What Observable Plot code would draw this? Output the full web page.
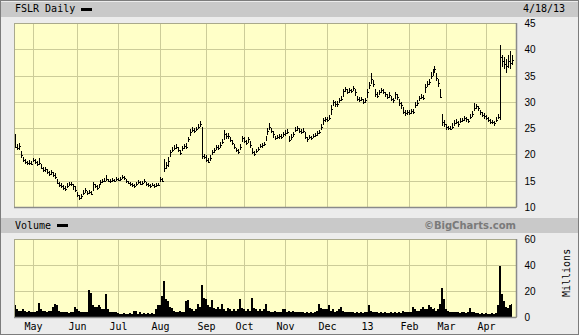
<!DOCTYPE html>
<html><head><meta charset="utf-8">
<script src="https://cdn.jsdelivr.net/npm/d3@7"></script>
<script src="https://cdn.jsdelivr.net/npm/@observablehq/plot@0.6"></script>
<style>
html,body{margin:0;padding:0;background:#fff}
#chart{position:relative;width:579px;height:335px;background:#ececec;overflow:hidden;font-family:"DejaVu Sans Mono",monospace}
.band{position:absolute;left:1px;width:577px;height:15px;background:#c9c9c9}
.lbl{position:absolute;font-size:10px;line-height:10px;color:#000;white-space:nowrap;font-family:"DejaVu Sans Mono",monospace}
.sw{position:absolute;background:#000;height:3px;width:11px}
#chart svg{position:absolute;left:0}
.outer{position:absolute;left:0;top:0;width:579px;height:335px;box-sizing:border-box;border:1px solid #7c7c7c;pointer-events:none}
.vol g[aria-label^="x-axis"] text{font-family:"DejaVu Sans Mono",monospace;font-size:10px}
</style></head><body><div id="chart">
<div class="band" style="top:2px"></div>
<div class="lbl" style="left:15px;top:4px">FSLR Daily</div>
<div class="sw" style="left:81px;top:8px"></div>
<div class="lbl" style="left:523px;top:4px">4/18/13</div>
<div class="band" style="top:218px"></div>
<div class="lbl" style="left:15px;top:221px">Volume</div>
<div class="sw" style="left:57px;top:224px"></div>
<div class="lbl" style="right:63px;top:221px;font-family:'DejaVu Sans',sans-serif;font-weight:bold;color:#7a7a7a">©BigCharts.com</div>
<div class="lbl" style="left:546px;top:271px;width:42px;text-align:center;transform:rotate(-90deg);transform-origin:21px 5px">Millions</div>
</div>
<script>
// Trading-day series, 18 Apr 2012 .. 18 Apr 2013 (one line per month)
const closes = [
21.5,21.2,21.6,19.8,18.9,18.6,18.3,18.4,18.2,
19.0,18.5,18.2,18.4,17.5,17.0,17.2,16.6,16.3,16.6,16.1,15.8,14.6,14.2,14.0,13.6,13.4,14.0,14.4,14.3,14.0,13.2,
12.2,11.7,12.0,12.7,13.2,12.6,12.8,12.5,14.4,13.9,13.6,14.0,14.7,15.0,15.0,15.3,15.0,14.9,15.1,15.0,15.3,
15.2,15.4,15.7,15.5,14.9,14.6,14.3,14.1,14.0,14.3,14.8,14.4,14.6,15.0,14.3,14.1,14.0,14.2,14.0,14.1,14.2,
15.3,15.0,17.5,17.9,18.7,20.5,20.9,21.3,21.5,20.8,20.3,21.2,21.6,21.5,23.0,24.3,24.7,24.4,24.9,25.3,25.8,19.7,19.6,
19.0,18.6,19.3,20.4,20.8,21.4,21.3,21.8,22.4,23.8,23.5,23.6,22.8,22.2,21.4,20.8,20.5,21.5,23.2,
22.6,22.2,22.9,21.8,20.5,20.1,20.6,21.0,21.6,21.7,22.0,23.1,24.5,25.2,24.5,23.8,23.1,23.3,23.5,23.3,23.8,
24.1,24.3,22.8,23.3,23.8,24.7,25.0,24.5,24.3,24.5,23.4,22.9,23.3,23.2,23.5,23.7,24.0,24.2,25.2,26.5,26.8,
26.6,27.0,28.7,29.9,29.5,29.6,30.3,30.6,32.0,32.4,31.8,32.2,32.0,32.6,31.8,30.5,30.4,30.6,30.0,30.3,
31.9,33.2,34.3,33.4,31.5,31.2,31.8,32.2,31.9,31.4,31.0,31.3,30.5,30.3,31.4,31.0,29.8,29.4,28.1,27.8,28.0,
27.9,28.2,28.1,29.4,29.8,30.7,31.0,30.8,32.8,33.4,33.8,35.0,35.6,36.2,34.6,33.6,31.0,26.2,25.8,
25.2,25.0,24.9,25.3,25.9,26.1,25.8,26.4,26.5,26.9,26.7,26.3,27.2,27.6,28.9,29.2,28.8,28.0,27.5,27.3,
27.0,26.6,26.1,26.2,25.9,26.6,27.2,38.5,37.8,37.2,36.8,37.8,37.3,38.0
];
const highs = [
23.8,21.9,22.1,20.6,19.5,19.2,18.8,18.9,18.7,
19.4,19.1,18.7,19.3,18.2,17.6,17.6,17.2,16.9,17.0,16.6,16.4,15.4,14.8,14.5,14.1,13.9,14.5,14.8,14.7,14.4,13.9,
12.8,12.3,12.4,13.3,13.6,13.1,13.2,13.0,14.8,14.4,14.1,14.4,15.1,15.4,15.5,16.1,15.4,15.3,15.5,15.4,15.7,
15.5,15.8,16.0,15.9,15.4,15.0,14.7,14.5,14.4,14.7,15.2,14.9,15.0,15.3,14.8,14.5,14.4,14.5,14.4,14.5,14.6,
15.8,15.6,19.2,18.6,19.5,20.9,21.5,21.8,22.0,21.4,20.9,21.6,22.0,22.2,23.4,24.8,25.2,25.0,25.3,25.7,26.4,25.3,20.1,
19.8,19.3,19.8,20.8,21.3,21.8,21.8,22.3,22.9,24.6,24.0,24.1,23.4,22.7,22.0,21.3,21.0,21.9,23.6,
23.3,22.8,23.4,22.6,21.2,20.6,21.0,21.4,22.0,22.1,22.4,23.6,25.0,26.0,25.1,24.4,23.6,23.7,23.9,23.8,24.2,
24.6,24.8,23.5,23.8,24.3,25.2,25.5,25.0,24.8,25.0,24.2,23.4,23.7,23.6,23.9,24.1,24.4,24.7,25.7,27.0,27.2,
27.1,27.5,29.4,30.4,30.1,30.1,30.8,31.2,32.5,32.9,32.4,32.7,32.5,33.1,32.4,31.2,30.9,31.0,30.6,30.8,
32.4,33.8,35.5,34.2,32.4,31.8,32.3,32.7,32.4,31.9,31.5,31.8,31.2,30.8,31.9,31.5,30.6,30.0,29.0,28.4,28.5,
28.4,28.7,28.6,30.0,30.3,31.2,31.5,31.3,33.4,33.9,34.4,35.6,36.3,36.9,35.5,34.4,32.5,27.6,26.6,
25.7,25.5,25.4,26.0,26.5,26.7,26.4,26.9,27.0,27.4,27.2,26.8,27.7,28.2,29.7,29.6,29.3,28.5,28.0,27.8,
27.5,27.1,26.7,26.6,26.4,27.1,27.7,40.9,39.0,38.6,38.2,39.0,39.6,38.9
];
const lows = [
21.3,20.8,20.9,19.4,18.5,18.2,17.9,18.0,17.9,
18.5,18.2,17.8,18.0,17.2,16.6,16.7,16.2,15.9,16.1,15.7,15.4,14.3,13.8,13.6,13.3,13.1,13.6,14.0,13.9,13.3,12.9,
11.9,11.4,11.6,12.3,12.7,12.3,12.4,12.2,13.0,13.6,13.3,13.6,14.2,14.6,14.7,15.0,14.7,14.6,14.8,14.7,14.9,
14.9,15.0,15.3,15.1,14.6,14.3,13.9,13.8,13.7,13.9,14.3,14.1,14.2,14.6,14.0,13.8,13.7,13.9,13.7,13.8,13.9,
14.8,14.7,16.6,17.3,17.6,19.6,20.4,20.8,21.0,20.4,19.9,20.6,21.1,21.0,22.3,23.5,24.2,24.0,24.4,24.8,25.2,19.2,19.2,
18.5,18.3,18.7,19.8,20.3,20.9,20.9,21.3,21.9,22.8,23.0,23.0,22.3,21.7,21.0,20.4,20.1,20.8,22.4,
22.1,21.8,22.2,21.3,20.0,19.7,20.2,20.6,21.2,21.3,21.6,22.5,23.7,24.6,24.0,23.2,22.8,22.9,23.0,22.9,23.3,
23.6,23.8,22.4,22.8,23.3,24.2,24.5,24.0,23.9,24.0,22.9,22.4,22.9,22.8,23.1,23.3,23.6,23.8,24.6,25.6,26.2,
26.1,26.6,27.5,29.3,29.1,29.1,29.8,30.1,31.0,31.9,31.4,31.7,31.6,32.0,31.2,30.1,30.0,30.1,29.6,29.8,
30.8,32.5,33.4,32.8,31.0,30.7,31.3,31.7,31.4,30.9,30.6,30.8,30.1,29.8,30.6,30.4,29.3,28.7,27.6,27.4,27.5,
27.5,27.7,27.6,28.8,29.3,30.2,30.5,30.3,31.6,32.8,33.2,34.3,35.0,35.4,34.0,32.9,30.8,25.5,25.2,
24.7,24.6,24.6,24.8,25.4,25.7,25.3,25.9,26.1,26.4,26.2,25.9,26.7,27.1,28.2,28.7,28.3,27.5,27.1,26.8,
26.6,26.2,25.7,25.8,25.5,26.1,26.7,26.6,36.6,36.2,35.4,36.5,36.3,37.0
];
// Volume in millions of shares
const volumes = [
9,6,5,5,6,5,4,5,4,
4,4,5,10.5,6,5,5,4,5,5,8,10,9,5,4,4,3.5,3.5,3,3.5,4,8,
6,5,4,4,4,4,20.7,18.7,9,8,8,9.5,8,6,6,17.6,6,4,4,4,4,
3,2.5,2.5,3,2.5,2.5,3,2.5,5,5,2.5,4,2.5,3,2.5,3,2.5,3,2.5,6,9,
9,16,27.7,14,12,8,7,5,4,4,5,4,4,12,13,7,6,5,6,10,8,24.5,15,
14,9,8,13,7,6,8,6,10,6,5,7,6,5,6,5,6,13.7,7,
6,5,6,5,14.5,7,6,5,6,5,6,10,5,5,4,4,5,4,4,4,6,
6,4,5,4,5,4,4,4,4,3.5,3,3.5,3,3.5,3,3.5,5,10,7,6,6,
6,9,5,6,4,5,6,8,5,4,4,3.5,4,3.5,3,4,3,3.5,3,3.5,
4,9,5,4,3.5,3.5,3,3.5,3,3.5,3,3,3.5,3,3.5,3,3.5,3,5,4,4,
3.5,4,8,6,5,4.5,6,8,6,6,9,8,6,7,5,6,10,22,14,
6,5,4,4,3.5,4,3.5,3,4,3.5,3,3.5,7,4,3.5,3,3,2.5,3,2.5,
3,2.5,2.5,3,2.5,3,9,39,18,12,8,7,9,10
];
// Index of first trading day of each month, and its label
const monthStarts = [9,31,52,73,96,115,136,157,177,198,217,237];
const monthLabels = ["May","Jun","Jul","Aug","Sep","Oct","Nov","Dec","13","Feb","Mar","Apr"];
const priceTicks = [10,15,20,25,30,35,40,45];
const volumeTicks = [0,20,40,60];

const rows = closes.map((c, i) => ({i, close: c, high: highs[i], low: lows[i], volume: volumes[i]}));
const grid = "#cccc99";
const bg = "#ffffc8";
const W = 579;
const xOpts = {domain: [0, 252], range: [15, 516], round: true};

const price = Plot.plot({
  width: W, height: 215,
  marginLeft: 14, marginRight: 63, marginTop: 23, marginBottom: 8,
  style: {background: "transparent", fontFamily: "'Liberation Sans', Arial, sans-serif", fontSize: "10px", color: "#000"},
  x: {...xOpts, axis: null},
  y: {domain: [10, 45], range: [207, 23], round: true, axis: "right", ticks: priceTicks, tickSize: 0, tickPadding: 8, label: null},
  marks: [
    Plot.frame({fill: bg, stroke: "none"}),
    Plot.ruleY(priceTicks.slice(1, -1), {stroke: grid}),
    Plot.ruleX(monthStarts, {stroke: grid}),
    Plot.frame({stroke: "#a9a98c"}),
    Plot.ruleX([252], {stroke: "#8a8a8a", strokeWidth: 1.5}),
    Plot.ruleY([10], {stroke: "#8a8a8a", strokeWidth: 1.5}),
    Plot.ruleX(rows, {x: "i", y1: "low", y2: "high", stroke: "#000", shapeRendering: "crispEdges"}),
    Plot.ruleY(rows, {y: "close", x1: d => d.i, x2: d => d.i + 1, stroke: "#000", shapeRendering: "crispEdges"})
  ]
});
price.style.top = "0px";

const vol = Plot.plot({
  width: W, height: 105,
  marginLeft: 14, marginRight: 63, marginTop: 9, marginBottom: 18,
  style: {background: "transparent", fontFamily: "'Liberation Sans', Arial, sans-serif", fontSize: "10px", color: "#000"},
  x: {...xOpts, axis: "bottom", ticks: monthStarts, tickFormat: d => monthLabels[monthStarts.indexOf(d)], tickSize: 0, tickPadding: 5, label: null},
  y: {domain: [0, 60], range: [87, 9], round: true, axis: "right", ticks: volumeTicks, tickSize: 0, tickPadding: 8, label: null},
  marks: [
    Plot.frame({fill: bg, stroke: "none"}),
    Plot.ruleY(volumeTicks.slice(1, -1), {stroke: grid}),
    Plot.ruleX(monthStarts, {stroke: grid}),
    Plot.areaY(rows, {x: "i", y1: d => 0, y2: "volume", curve: "step", fill: "#000", shapeRendering: "crispEdges"}),
    Plot.frame({stroke: "#a9a98c"}),
    Plot.ruleX([252], {stroke: "#8a8a8a", strokeWidth: 1.5}),
    Plot.ruleY([0], {stroke: "#8a8a8a", strokeWidth: 1.5})
  ]
});
vol.classList.add("vol");
vol.style.top = "230px";

const chart = document.getElementById("chart");
chart.appendChild(price);
chart.appendChild(vol);
const outer = document.createElement("div");
outer.className = "outer";
chart.appendChild(outer);
</script></body></html>
